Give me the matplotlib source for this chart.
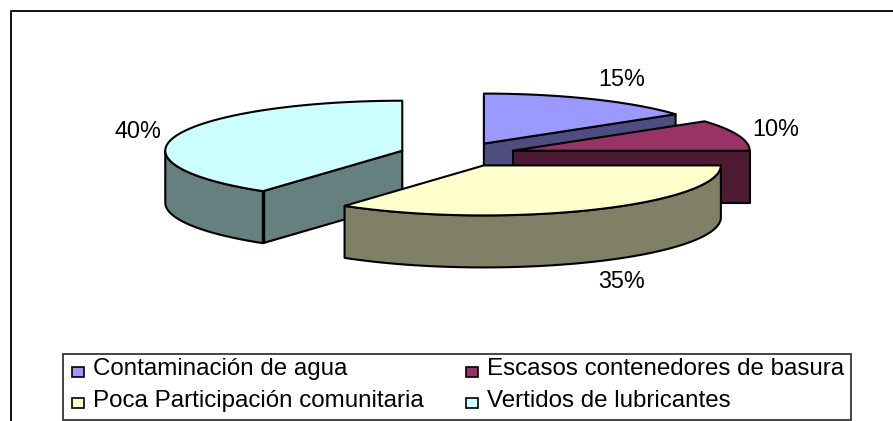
"""Exploded 3D pie, drawn by hand since matplotlib has no 3D pie."""
import numpy as np
import matplotlib
matplotlib.use("Agg")
import matplotlib.pyplot as plt
from matplotlib.patches import Polygon, Rectangle

plt.rcParams["font.family"] = ["Liberation Sans", "DejaVu Sans"]

CATEGORIES = ["Contaminación de agua", "Escasos contenedores de basura",
              "Poca Participación comunitaria", "Vertidos de lubricantes"]
VALUES = [15, 10, 35, 40]
PCT_LABELS = ["15%", "10%", "35%", "40%"]

TOP_COLORS = ["#9999FF", "#993366", "#FFFFCC", "#CCFFFF"]
SIDE_COLORS = ["#4D4D80", "#4D1A33", "#808066", "#668080"]

# pie geometry, in pixels of the picture
CX, CY = 457.5, 154.5
RX, RY = 237, 50
EXPLODE = 0.245
DEPTH = 52
LABEL_POS = [(622, 80), (776, 130), (622, 281), (138, 132)]
FONT = 16.8
LEGEND_FONT = 17.4


def point(apex, deg, drop=0):
    t = np.radians(deg)
    return apex[0] + RX * np.sin(t), apex[1] - RY * np.cos(t) + drop


def arc(apex, a, b, drop=0):
    n = max(int(abs(b - a)) + 2, 2)
    return [point(apex, d, drop) for d in np.linspace(a, b, n)]


fig = plt.figure(figsize=(8.93, 4.21), dpi=100)
ax = fig.add_axes([0, 0, 1, 1])
ax.set_xlim(0, 893)
ax.set_ylim(421, 0)
ax.axis("off")

# outer frame, only left and top show in the picture
ax.plot([10.5, 10.5, 893], [421, 10.5, 10.5], color="#111111", lw=1.4)

edges = np.cumsum([0] + VALUES) * 3.6
wedges = []
for i in range(len(VALUES)):
    a, b = edges[i], edges[i + 1]
    mid = np.radians((a + b) / 2)
    apex = (CX + EXPLODE * RX * np.sin(mid), CY - EXPLODE * RY * np.cos(mid))
    wedges.append((i, a, b, apex))

# back to front
for i, a, b, apex in [wedges[0], wedges[1], wedges[3], wedges[2]]:
    kw = dict(edgecolor="black", lw=1.5, joinstyle="round")
    # flat cut faces that look towards the viewer
    cuts = []
    if 0 < b <= 90:
        cuts.append(b)
    if 180 < a < 270:
        cuts.append(a)
    for ang in cuts:
        p = point(apex, ang)
        ax.add_patch(Polygon([apex, p, (p[0], p[1] + DEPTH), (apex[0], apex[1] + DEPTH)],
                             facecolor=SIDE_COLORS[i], **kw))
    # curved outer face, only the part between 90 and 270 degrees shows
    lo, hi = max(a, 90), min(b, 270)
    if hi > lo:
        ax.add_patch(Polygon(arc(apex, lo, hi) + arc(apex, hi, lo, DEPTH),
                             facecolor=SIDE_COLORS[i], **kw))
    ax.add_patch(Polygon([apex] + arc(apex, a, b), facecolor=TOP_COLORS[i], **kw))

# heavier seam where the 40% wedge turns the corner
p = point(wedges[3][3], edges[3])
ax.plot([p[0], p[0]], [p[1], p[1] + DEPTH], color="black", lw=2.4, solid_capstyle="butt")

for lab, (x, y) in zip(PCT_LABELS, LABEL_POS):
    ax.text(x, y, lab, ha="center", va="center", fontsize=FONT)

# legend
ax.add_patch(Rectangle((62.5, 353.5), 788, 66.5, facecolor="white", edgecolor="#444444", lw=1.4))
LEG_POS = [(72, 372), (466, 372), (72, 403), (466, 403)]
LEG_TEXT_Y = [369, 369, 401, 401]
for name, col, (x, y), ty in zip(CATEGORIES, TOP_COLORS, LEG_POS, LEG_TEXT_Y):
    ax.add_patch(Rectangle((x, y - 5), 12, 10, facecolor=col, edgecolor="black", lw=1.2))
    ax.text(x + 21, ty, name, ha="left", va="center", fontsize=LEGEND_FONT)

fig.savefig("out.png", dpi=100)
